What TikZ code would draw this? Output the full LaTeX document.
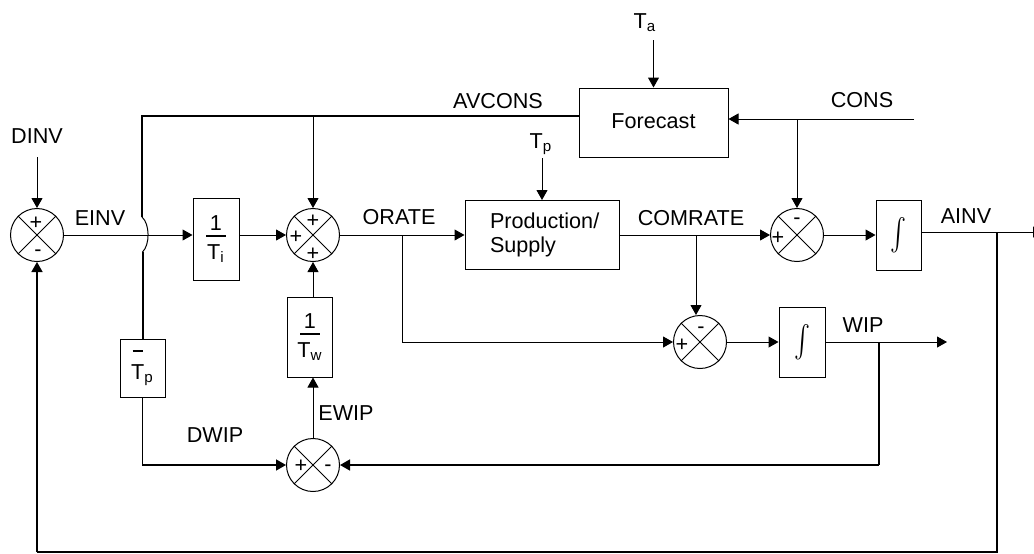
\documentclass[tikz,border=0pt]{standalone}
\usepackage{fontspec}
\setmainfont{Liberation Sans}
\usepackage{graphicx}
\usetikzlibrary{arrows.meta}

% 1 over T with a subscript
\newcommand{\recip}[1]{\vbox{\offinterlineskip\halign{\hfil##\hfil\cr 1\cr\noalign{\kern2.55pt}\rule{10pt}{0.9pt}\cr\noalign{\kern3.85pt}T\textsubscript{#1}\cr}}}
% bar over T_p
\newcommand{\tpbar}{\vbox{\offinterlineskip\halign{##\hfil\cr\kern0.7pt\rule{5pt}{0.9pt}\cr\noalign{\kern6pt}T\textsubscript{p}\cr}}}
\newcommand{\integ}{\scalebox{1.2}[1.6]{$\int$}}

\begin{document}
\begin{tikzpicture}[
  x=0.5pt, y=-0.5pt,
  line width=0.5pt,
  font=\fontsize{10.8}{12}\selectfont,
  arr/.style={-{Triangle[length=5pt,width=5.5pt]}},
  heavy/.style={line width=1pt},
  mid/.style={line width=0.75pt},
  blk/.style={draw, inner sep=0pt},
  sumj/.style={draw, circle, minimum size=26.5pt, inner sep=0pt},
  sgn/.style={inner sep=0pt},
  lbl/.style={inner sep=0pt, anchor=base}
]
\useasboundingbox (0,0) rectangle (1034,553);

% summing junctions
\node[sumj] (s1) at (37,235) {};
\node[sumj] (s2) at (313,235) {};
\node[sumj] (s3) at (797,235) {};
\node[sumj] (s4) at (700,342) {};
\node[sumj] (s5) at (313,465) {};
\foreach \s in {s1,s2,s3,s4,s5}
  \draw (\s.north west) -- (\s.south east) (\s.north east) -- (\s.south west);

\node[sgn] (s1a) at ([shift={(-1,-12)}]s1.center) {+};
\node[sgn] (s1b) at ([shift={(1,18)}]s1.center) {-};
\node[sgn] (s2a) at ([shift={(0,-14)}]s2.center) {+};
\node[sgn] (s2b) at ([shift={(-17,2)}]s2.center) {+};
\node[sgn] (s2c) at ([shift={(0,19)}]s2.center) {+};
\node[sgn] (s3a) at ([shift={(0,-14)}]s3.center) {-};
\node[sgn] (s3b) at ([shift={(-19,3)}]s3.center) {+};
\node[sgn] (s4a) at ([shift={(1,-12)}]s4.center) {-};
\node[sgn] (s4b) at ([shift={(-18,3)}]s4.center) {+};
\node[sgn] (s5a) at ([shift={(-12,1)}]s5.center) {+};
\node[sgn] (s5b) at ([shift={(15,3)}]s5.center) {-};

% blocks
\node[blk, minimum width=74.5pt, minimum height=34.5pt] (fc) at (653.5,122.5) {\raisebox{1.5pt}{Forecast}};
\node[blk, minimum height=34.5pt, align=left, text width=54pt, inner xsep=11.5pt] (prod) at (542,235) {\mbox{\kern1pt Production/}\\\mbox{\kern1pt Supply}};
\node[blk, minimum width=23pt, minimum height=41pt] (ti) at (216,239) {\recip{i}};
\node[blk, minimum width=22.5pt, minimum height=40pt] (tw) at (310,337) {\recip{w}};
\node[blk, minimum width=22.5pt, minimum height=29pt] (tp) at (142.5,368) {\tpbar};
\node[blk, minimum width=22.5pt, minimum height=35pt] (int1) at (898.5,235) {\integ};
\node[blk, minimum width=23pt, minimum height=35pt] (int2) at (802,342) {\integ};

% signal names
\node[lbl] (dinv) at (37,143) {DINV};
\node[lbl] (einv) at (100,225) {EINV};
\node[lbl] (avcons) at (498,108) {AVCONS};
\node[lbl] (ta) at (645,28) {T\textsubscript{a}};
\node[lbl] (tpl) at (541,148) {T\textsubscript{p}};
\node[lbl] (cons) at (862,107) {CONS};
\node[lbl] (orate) at (399,224) {ORATE};
\node[lbl] (comrate) at (691,225) {COMRATE};
\node[lbl] (ainv) at (966,223) {AINV};
\node[lbl] (wip) at (863,332) {WIP};
\node[lbl] (ewip) at (346,420) {EWIP};
\node[lbl] (dwip) at (215,442) {DWIP};

% main row
\draw[arr] (s1.east) -- (s1.east -| ti.west);
\draw[arr] (ti.east |- s2.west) -- (s2.west);
\draw[arr] (s2.east) -- (prod.west);
\draw[arr] (prod.east) -- (s3.west);
\draw[arr] (s3.east) -- (int1.west);
\coordinate (ainvr) at (1043,232);
\draw[arr] (int1.east |- ainvr) -- (ainvr);

% outside inputs
\draw[arr, shorten <=7pt] (dinv.base) -- (s1.north);
\draw[arr, shorten <=6pt] (ta.base -| fc.north) -- (fc.north);
\draw[arr, shorten <=5pt] (tpl.base -| prod.north) -- (prod.north);

% consumption and forecast
\coordinate (consr) at (914,119);
\coordinate (consj) at (s3 |- consr);
\draw[arr] (consr) -- (consr -| fc.east);
\draw[arr] (consj) -- (s3.north);

\coordinate (avl) at (142,116);
\coordinate (avr) at (avl -| fc.west);
\coordinate (jt) at (142,217);
\coordinate (jb) at (142.5,252);
\coordinate (avj) at (s2 |- avl);
\draw[heavy] (avr) -- (avl) -- (jt);
\draw (jt) .. controls (150,224) and (150,245) .. (jb);
\draw[heavy] (jb) -- (tp.north);
\draw[arr] (avj) -- (s2.north);

% work in progress loop
\draw[arr, mid] (tp.south) |- (s5.west);
\draw[arr] (s5.north) -- (s5.north |- tw.south);
\draw[arr] (s2.south |- tw.north) -- (s2.south);

\coordinate (orj) at (402,235);
\draw[arr] (orj) |- (s4.west);
\coordinate (cmj) at (696,235);
\draw[arr] (cmj) -- (cmj |- s4.north);

\draw[arr] (s4.east) -- (int2.west);
\coordinate (wipr) at (947,342);
\draw[arr] (int2.east) -- (wipr);
\coordinate (wipj) at (879,342);
\coordinate (wipb) at (wipj |- s5);
\draw[heavy] (wipj) -- (wipb);
\draw[arr, mid] (wipb) -- (s5.east);

% inventory feedback
\coordinate (fbj) at (997,232);
\coordinate (fbr) at (997,552);
\coordinate (fbl) at (s1 |- fbr);
\draw[heavy] (fbj) -- (fbr) -- (fbl);
\draw[arr, mid] (fbl) -- (s1.south);
\end{tikzpicture}
\end{document}
